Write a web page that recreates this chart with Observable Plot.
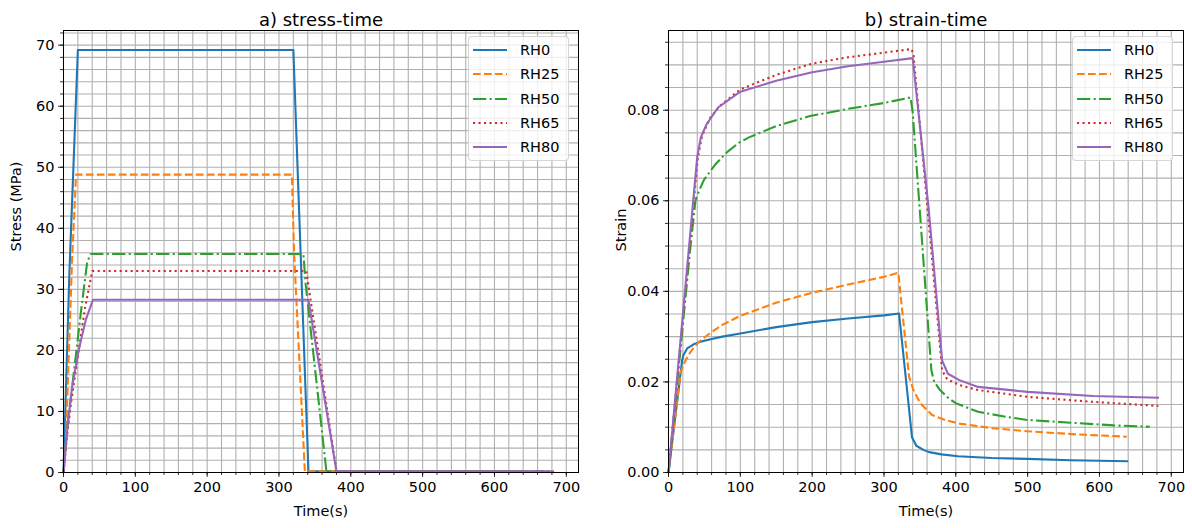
<!DOCTYPE html>
<html><head><meta charset="utf-8">
<script src="https://cdn.jsdelivr.net/npm/d3@7"></script>
<script src="https://cdn.jsdelivr.net/npm/@observablehq/plot@0.6"></script>
<style>
body{margin:0;background:#fff;font-family:"DejaVu Sans",sans-serif;}
#wrap{position:relative;width:1192px;height:528px;overflow:hidden;background:#fff;}
.panel{position:absolute;top:0;}
.legend{position:absolute;background:rgba(255,255,255,0.8);border:1px solid rgba(204,204,204,0.8);border-radius:4px;box-sizing:border-box;}
.legend .row{position:absolute;left:0;height:20px;}
.legend svg{position:absolute;left:4px;top:0;}
.legend span{position:absolute;left:51px;top:1px;font-size:14.5px;line-height:18px;color:#000;white-space:nowrap;}
</style></head><body><div id="wrap"></div>
<script>
// ---- categories / series ----
const seriesNames = ["RH0", "RH25", "RH50", "RH65", "RH80"];

// ---- stress-time data [time (s), stress (MPa)] ----
const stressRH0  = [[0,0],[8,32],[20,69.2],[320,69.2],[341,0.2],[640,0.2]];
const stressRH25 = [[0,0],[3,4],[7,18],[12,35],[17.5,48.8],[318,48.8],[321,36],[336,0.2],[640,0.2]];
const stressRH50 = [[0,0],[5,7],[15,17],[25,27],[33,34.5],[38,35.8],[334,35.8],[337,31],[366,0.2],[670,0.2]];
const stressRH65 = [[0,0],[5,6],[10,11],[20,19],[30,27],[40,33],[338,33],[340.5,31],[380,0.2],[680,0.2]];
const stressRH80 = [[0,0],[3,4],[6,8],[12,14],[21,20],[31,25],[41,28.3],[341,28.3],[380,0.2],[683,0.2]];

// ---- strain-time data [time (s), strain] ----
const strainRH0  = [[0,0],[19,0.0248],[21,0.026],[26,0.0274],[35,0.0283],[45,0.0289],[60,0.0295],[75,0.0300],[100,0.0307],[150,0.0321],[200,0.0332],[250,0.0340],[300,0.0347],[321,0.0351],[339,0.0078],[345,0.0059],[355,0.0050],[363,0.0045],[380,0.0040],[403,0.0036],[450,0.0032],[500,0.0030],[560,0.0027],[640,0.0025]];
const strainRH25 = [[0,0],[17,0.0222],[22,0.0242],[28,0.0260],[35,0.0276],[45,0.0292],[58,0.0308],[75,0.0326],[100,0.0346],[150,0.0375],[200,0.0397],[250,0.0415],[300,0.0432],[320,0.0441],[323,0.0394],[335,0.0211],[341,0.0182],[351,0.0152],[367,0.0127],[385,0.0116],[405,0.0108],[450,0.0098],[500,0.0091],[570,0.0084],[638,0.0079]];
const strainRH50 = [[0,0],[30,0.049],[37.5,0.0600],[42,0.0620],[49,0.0645],[58,0.0665],[65,0.0680],[82,0.0708],[98,0.0728],[112,0.0740],[150,0.0765],[197,0.0787],[250,0.0803],[300,0.0816],[337,0.0828],[340,0.0795],[366,0.0225],[370,0.0200],[378,0.0182],[390,0.0164],[400,0.0153],[431,0.0134],[470,0.0123],[500,0.0116],[560,0.0110],[620,0.0104],[670,0.0101]];
const strainRH65 = [[0,0],[20,0.034],[41,0.0697],[47,0.0745],[58,0.0783],[72,0.0810],[100,0.0846],[150,0.0878],[200,0.0903],[250,0.0917],[300,0.0927],[338,0.0935],[341,0.0925],[381,0.0225],[388,0.0206],[405,0.0193],[431,0.0182],[500,0.0167],[591,0.0156],[682,0.0147]];
const strainRH80 = [[0,0],[40,0.0697],[45,0.0740],[53,0.0769],[69,0.0806],[100,0.0841],[150,0.0865],[200,0.0884],[250,0.0897],[300,0.0907],[340,0.0915],[362,0.0586],[381,0.0247],[389,0.0218],[405,0.0204],[431,0.0189],[500,0.0178],[591,0.0169],[683,0.0165]];

// ---- tick labels ----
const timeTicks   = [0, 100, 200, 300, 400, 500, 600, 700];
const stressTicks = [0, 10, 20, 30, 40, 50, 60, 70];
const strainTicks = [0, 0.02, 0.04, 0.06, 0.08];

// ---- styles ----
const colors = ["#1f77b4", "#ff7f0e", "#2ca02c", "#d62728", "#9467bd"];
const dashes = [null, "7.7,3.3", "13.3,3.3,2.1,3.3", "2.1,3.4", null];
const gridColor = "#b0b0b0";
const FONT = "'DejaVu Sans', sans-serif";

const timeMinor   = d3.range(0, 720, 20);
const stressMinor = d3.range(0, 73, 2);
const strainMinor = d3.range(0, 20).map(i => +(i * 0.005).toFixed(3));

function panel({title, ylabel, series, yDomain, yTicks, yMinor, yFmt, marginLeft, marginRight}) {
  const lineMarks = series.map((s, i) => Plot.line(s, {
    x: d => d[0], y: d => d[1], stroke: colors[i], strokeWidth: 2.1,
    strokeDasharray: dashes[i], strokeLinejoin: "round", strokeLinecap: "butt"
  }));
  return Plot.plot({
    width: 596, height: 528,
    marginLeft, marginRight, marginTop: 30, marginBottom: 56,
    style: {fontFamily: FONT, fontSize: "14.5px", color: "black", background: "transparent", overflow: "visible"},
    x: {domain: [0, 717], label: null},
    y: {domain: yDomain, label: null},
    marks: [
      Plot.gridX(timeMinor, {stroke: gridColor, strokeOpacity: 1, strokeWidth: 1.1}),
      Plot.gridY(yMinor, {stroke: gridColor, strokeOpacity: 1, strokeWidth: 1.1}),
      ...lineMarks,
      Plot.frame({stroke: "black", strokeWidth: 1}),
      Plot.axisX(timeMinor, {tickSize: 3, tickFormat: () => "", strokeWidth: 0.8, label: null}),
      Plot.axisX(timeTicks, {tickSize: 5, tickPadding: 4, strokeWidth: 0.8, tickFormat: d => String(d), label: null}),
      Plot.axisY(yMinor, {tickSize: 3, tickFormat: () => "", strokeWidth: 0.8, label: null}),
      Plot.axisY(yTicks, {tickSize: 5, tickPadding: 4, strokeWidth: 0.8, tickFormat: yFmt, label: null}),
      Plot.text([title], {frameAnchor: "top", dy: -17, fontSize: 18, fill: "black"}),
      Plot.text([ylabel], {frameAnchor: "left", dx: -47, rotate: -90, fill: "black"}),
      Plot.text(["Time(s)"], {frameAnchor: "bottom", dy: 43, fill: "black"})
    ]
  });
}

const wrap = document.getElementById("wrap");

const left = panel({
  title: "a) stress-time", ylabel: "Stress (MPa)",
  series: [stressRH0, stressRH25, stressRH50, stressRH65, stressRH80],
  yDomain: [0, 72.4], yTicks: stressTicks, yMinor: stressMinor, yFmt: d => String(d),
  marginLeft: 63, marginRight: 18
});
left.classList.add("panel"); left.style.left = "0px";
wrap.appendChild(left);

const right = panel({
  title: "b) strain-time", ylabel: "Strain",
  series: [strainRH0, strainRH25, strainRH50, strainRH65, strainRH80],
  yDomain: [0, 0.0976], yTicks: strainTicks, yMinor: strainMinor, yFmt: d3.format(".2f"),
  marginLeft: 72, marginRight: 9
});
right.classList.add("panel"); right.style.left = "596px";
wrap.appendChild(right);

function legend(x, y) {
  const box = document.createElement("div");
  box.className = "legend";
  Object.assign(box.style, {left: x + "px", top: y + "px", width: "101px", height: "125px"});
  const rowTops = [3, 27, 51.5, 75.5, 100];
  seriesNames.forEach((name, i) => {
    const row = document.createElement("div");
    row.className = "row";
    row.style.top = rowTops[i] + "px";
    row.style.width = "100px";
    const ns = "http://www.w3.org/2000/svg";
    const svg = document.createElementNS(ns, "svg");
    svg.setAttribute("width", "35"); svg.setAttribute("height", "20");
    const ln = document.createElementNS(ns, "line");
    ln.setAttribute("x1", "0"); ln.setAttribute("x2", "34");
    ln.setAttribute("y1", "10"); ln.setAttribute("y2", "10");
    ln.setAttribute("stroke", colors[i]); ln.setAttribute("stroke-width", "2.1");
    if (dashes[i]) ln.setAttribute("stroke-dasharray", dashes[i]);
    svg.appendChild(ln);
    const sp = document.createElement("span");
    sp.textContent = name;
    row.appendChild(svg); row.appendChild(sp);
    box.appendChild(row);
  });
  wrap.appendChild(box);
}
legend(468, 36);
legend(1072, 36);
</script></body></html>
